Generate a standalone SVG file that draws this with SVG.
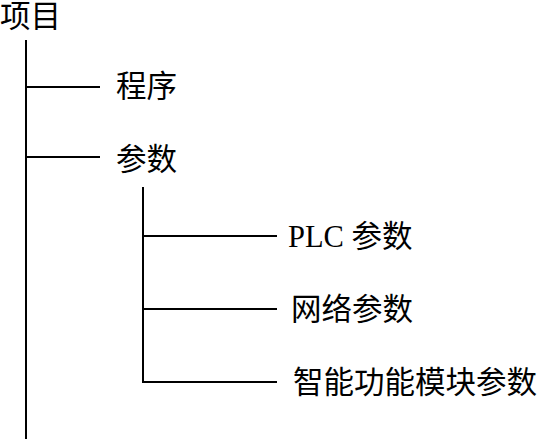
<svg xmlns="http://www.w3.org/2000/svg" width="542" height="439" viewBox="0 0 542 439">
<style>
text{font-family:"Liberation Serif","Noto Sans CJK SC",serif;font-size:30.5px;fill:#000}
.c line{stroke:#000;stroke-width:2}
</style>
<rect width="542" height="439" fill="#fff"/>
<g class="c" id="connectors">
<line x1="26" y1="40" x2="26" y2="439"/>
<line x1="26" y1="87" x2="100" y2="87"/>
<line x1="26" y1="157" x2="100" y2="157"/>
<line x1="143" y1="187" x2="143" y2="382"/>
<line x1="143" y1="236" x2="277" y2="236"/>
<line x1="143" y1="309" x2="277" y2="309"/>
<line x1="142" y1="382" x2="277" y2="382"/>
</g>
<g id="n-root"><text x="0" y="26.5">项目</text></g>
<g id="n-program"><text x="116" y="96.5">程序</text></g>
<g id="n-params"><text x="116" y="169.5">参数</text></g>
<g id="n-plc"><text x="288" y="246.5">PLC 参数</text></g>
<g id="n-net"><text x="291" y="319.5">网络参数</text></g>
<g id="n-ifm"><text x="293" y="392.5">智能功能模块参数</text></g>
</svg>
